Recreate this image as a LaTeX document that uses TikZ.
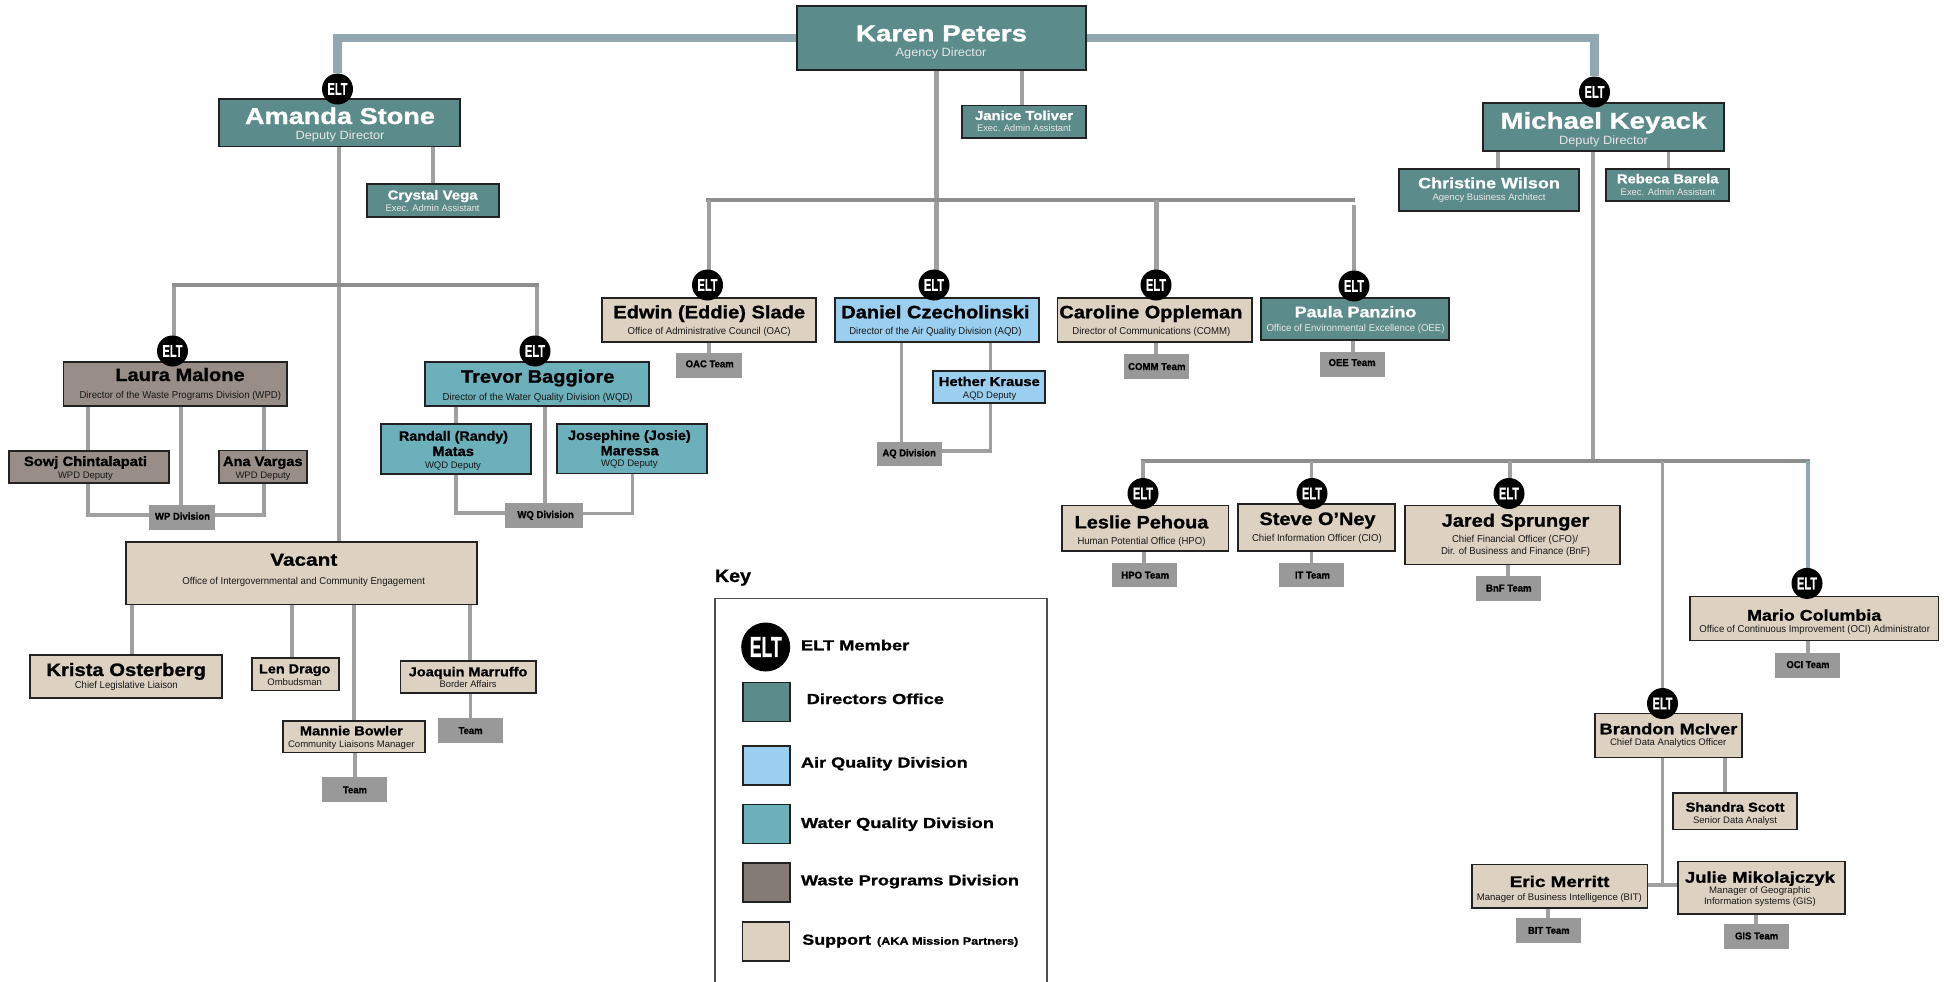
\documentclass[tikz,border=0pt]{standalone}
\usepackage{fontspec}
\usepackage{graphicx}
\setmainfont[BoldFeatures={FakeBold=1}]{Liberation Sans}
\definecolor{cteal}{HTML}{5B8B8A}
\definecolor{ctan}{HTML}{DDD2C2}
\definecolor{cair}{HTML}{9BCFF0}
\definecolor{cwater}{HTML}{6CB0BB}
\definecolor{cwaste}{HTML}{988E87}
\definecolor{cwastekey}{HTML}{857B76}
\definecolor{cteam}{HTML}{999999}
\definecolor{cline}{HTML}{A0A0A0}
\definecolor{cbus}{HTML}{8E8E8E}
\definecolor{ctop}{HTML}{91A7B1}
\definecolor{cedge}{HTML}{222222}
\pgfdeclarelayer{bg}
\pgfsetlayers{bg,main}
\tikzset{
  boxs/.style={rectangle,draw=cedge,line width=1.5pt,inner sep=0pt,outer sep=0pt},
  teal/.style={boxs,fill=cteal,text=white},
  tan/.style={boxs,fill=ctan,text=black},
  air/.style={boxs,fill=cair,text=black},
  water/.style={boxs,fill=cwater,text=black},
  waste/.style={boxs,fill=cwaste,text=black},
  team/.style={rectangle,fill=cteam,text=black,inner sep=0pt,outer sep=0pt},
  elt/.style={circle,fill=black,text=white,minimum size=31pt,inner sep=0pt,outer sep=0pt},
  eltkey/.style={circle,fill=black,text=white,minimum size=49pt,inner sep=0pt,outer sep=0pt},
  swatch/.style={rectangle,draw=cedge,line width=1.2pt,minimum width=47pt,minimum height=39pt,inner sep=0pt,outer sep=0pt},
  keylabel/.style={anchor=base west,inner sep=0pt,outer sep=0pt,text=black},
  conn/.style={draw=cline,line width=3.8pt,line join=miter},
  thick conn/.style={draw=cline,line width=5pt},
  bus/.style={draw=cbus,line width=4.3pt},
  topl/.style={draw=ctop,line width=8.5pt,line join=miter},
  blue conn/.style={draw=ctop,line width=3.5pt},
}
\newcommand{\bx}[7]{%
  \pgfmathsetmacro\cxx{(#2+#4)/2}%
  \pgfmathsetmacro\cyy{(#3+#5)/2}%
  \pgfmathsetmacro\bxW{#4-#2}%
  \pgfmathsetmacro\bxH{#5-#3}%
  \node[#6,minimum width=\bxW pt,minimum height=\bxH pt] (#1) at (\cxx,\cyy) {#7};%
}
\newcommand{\tline}[5]{%
  \pgfmathsetmacro\dxx{#1-\cxx}%
  \pgfmathsetmacro\dyy{\cyy-#2}%
  \kern\dxx pt\makebox[0pt][c]{\raisebox{\dyy pt}[0pt][0pt]{\resizebox{#3pt}{\height}{\fontsize{#4}{#4}\selectfont #5}}}\kern-\dxx pt\relax
}
\newcommand{\nameln}[5]{\tline{#1}{#2}{#3}{#4}{\bfseries #5}}
\newcommand{\subln}[5]{\tline{#1}{#2}{#3}{#4}{\color{.!82!gray}#5}}
\newcommand{\eltn}[3]{\node[elt] (#1) at (#2,#3) {\resizebox{20pt}{\height}{\fontsize{17}{17}\bfseries\selectfont ELT}};}
\newcommand{\vcon}[4][conn]{\draw[#1] (#2,0 |- #3) -- (#2,0 |- #4);}
\newcommand{\keyl}[5]{\node[keylabel] (#1) at (#2,#3) {\resizebox{#4pt}{\height}{\fontsize{14.5}{14.5}\bfseries\selectfont #5}};}
\begin{document}
\begin{tikzpicture}[x=1pt,y=-1pt]
\useasboundingbox (0,0) rectangle (1944,982);

% Director's office
\bx{karen}{797}{6}{1086}{70}{teal}{\nameln{941.5}{41.3}{171}{23}{Karen Peters}\subln{941}{56.7}{90.7}{12}{Agency Director}}
\bx{janice}{962}{105.5}{1086}{138}{teal}{\nameln{1024}{120}{98}{13}{Janice Toliver}\subln{1024}{131.7}{94}{9.5}{Exec. Admin Assistant}}
\bx{amanda}{219}{99}{460}{146.7}{teal}{\nameln{340}{124}{190}{23}{Amanda Stone}\subln{340}{139.5}{89}{12}{Deputy Director}}
\bx{crystal}{367}{184}{499}{217}{teal}{\nameln{432.6}{199.5}{90}{13}{Crystal Vega}\subln{432.6}{211}{94}{9.5}{Exec. Admin Assistant}}
\bx{michael}{1483}{103}{1724}{151}{teal}{\nameln{1603.5}{128.7}{206}{23}{Michael Keyack}\subln{1603.5}{144.3}{89}{12}{Deputy Director}}
\bx{christine}{1399}{169}{1579}{211}{teal}{\nameln{1489}{188.3}{141.7}{15}{Christine Wilson}\subln{1489}{200}{113}{9.5}{Agency Business Architect}}
\bx{rebeca}{1606}{169}{1729}{201}{teal}{\nameln{1667.7}{183.3}{101.5}{13}{Rebeca Barela}\subln{1668}{195.3}{94.6}{9.5}{Exec. Admin Assistant}}

% Waste programs
\bx{laura}{63.5}{362}{287}{406}{waste}{\nameln{180}{381}{129.4}{18}{Laura Malone}\subln{180.3}{398}{201.5}{10}{Director of the Waste Programs Division (WPD)}}
\bx{sowj}{9}{451}{169}{483}{waste}{\nameln{85.5}{466}{123}{13.5}{Sowj Chintalapati}\subln{85.4}{478}{54.8}{9.5}{WPD Deputy}}
\bx{ana}{219}{450.5}{307}{483}{waste}{\nameln{262.8}{466}{79.6}{13.5}{Ana Vargas}\subln{263}{478}{55}{9.5}{WPD Deputy}}
\bx{wp}{149}{505}{215}{530}{team}{\nameln{182.5}{519.7}{55}{10}{WP Division}}

% Water quality
\bx{trevor}{425}{362}{649}{406}{water}{\nameln{537.7}{382.7}{153.4}{18}{Trevor Baggiore}\subln{537.7}{400}{190}{10}{Director of the Water Quality Division (WQD)}}
\bx{randall}{381}{424}{531}{474}{water}{\nameln{453.5}{440.7}{109}{13.5}{Randall (Randy)}\nameln{453.2}{456}{41.5}{13.5}{Matas}\subln{453}{468}{56}{9.5}{WQD Deputy}}
\bx{josephine}{557}{424}{707}{473.5}{water}{\nameln{629.4}{440}{122.8}{13.5}{Josephine (Josie)}\nameln{629.6}{455.3}{58}{13.5}{Maressa}\subln{629.4}{466.7}{56.5}{9.5}{WQD Deputy}}
\bx{wq}{505}{503}{582.5}{528}{team}{\nameln{545.6}{518}{56.4}{10}{WQ Division}}

% Intergovernmental office
\bx{vacant}{126}{542}{477}{604.5}{tan}{\nameln{303.8}{565.7}{67}{17.5}{Vacant}\subln{303.7}{584.3}{242.5}{10}{Office of Intergovernmental and Community Engagement}}
\bx{krista}{30}{655}{222}{698}{tan}{\nameln{126.2}{676}{159.6}{18}{Krista Osterberg}\subln{126.3}{688.7}{103}{10}{Chief Legislative Liaison}}
\bx{len}{252}{658}{339}{690.5}{tan}{\nameln{294.7}{673.3}{71.3}{13}{Len Drago}\subln{294.7}{685}{54.7}{9.5}{Ombudsman}}
\bx{joaquin}{400.5}{661}{536}{693}{tan}{\nameln{468.1}{676.3}{118.6}{13}{Joaquin Marruffo}\subln{468.1}{687.7}{57}{9.5}{Border Affairs}}
\bx{mannie}{283}{721}{425}{752.5}{tan}{\nameln{351.4}{735.3}{103}{13}{Mannie Bowler}\subln{351.3}{747}{126.5}{9.5}{Community Liaisons Manager}}
\bx{teamA}{322}{777}{387}{802}{team}{\nameln{355}{793.3}{24}{10}{Team}}
\bx{teamB}{438}{718}{502.5}{742.5}{team}{\nameln{470.6}{734}{24}{10}{Team}}

% Middle row
\bx{edwin}{602}{298}{816}{342}{tan}{\nameln{709.2}{318.3}{191.7}{18}{Edwin (Eddie) Slade}\subln{709.2}{334}{163}{10}{Office of Administrative Council (OAC)}}
\bx{daniel}{835}{298}{1039}{342}{air}{\nameln{935.4}{318.3}{188.3}{18}{Daniel Czecholinski}\subln{935.4}{334}{172.2}{10}{Director of the Air Quality Division (AQD)}}
\bx{caroline}{1057.6}{298}{1252}{342}{tan}{\nameln{1150.9}{318.3}{183}{18}{Caroline Oppleman}\subln{1151.4}{334}{158}{10}{Director of Communications (COMM)}}
\bx{paula}{1261}{298}{1449}{340}{teal}{\nameln{1355.5}{317.3}{121.7}{15.5}{Paula Panzino}\subln{1355.5}{331.7}{178}{10}{Office of Environmental Excellence (OEE)}}
\bx{oac}{676}{353}{742}{378}{team}{\nameln{709.7}{367.3}{48}{10}{OAC Team}}
\bx{comm}{1124}{354}{1189}{379}{team}{\nameln{1156.8}{370}{57.4}{10}{COMM Team}}
\bx{oee}{1320}{352}{1385}{377}{team}{\nameln{1352.1}{366}{47}{10}{OEE Team}}
\bx{hether}{933}{371}{1045}{403}{air}{\nameln{989.3}{386}{101}{13}{Hether Krause}\subln{989.6}{398}{53.4}{9.5}{AQD Deputy}}
\bx{aq}{877}{441.5}{942}{466}{team}{\nameln{909.2}{456.3}{53.4}{10}{AQ Division}}

% Right hand side
\bx{leslie}{1062}{505.7}{1228.5}{550.8}{tan}{\nameln{1141.5}{528.4}{133.7}{18}{Leslie Pehoua}\subln{1141.5}{544.7}{128}{10}{Human Potential Office (HPO)}}
\bx{steve}{1238}{504}{1395}{550.8}{tan}{\nameln{1317.5}{525}{116}{18}{Steve O’Ney}\subln{1316.9}{541.6}{129.7}{10}{Chief Information Officer (CIO)}}
\bx{jared}{1405}{505.7}{1620}{564.5}{tan}{\nameln{1515.5}{526.7}{147.6}{18}{Jared Sprunger}\subln{1515}{542.6}{126}{10}{Chief Financial Officer (CFO)/}\subln{1515.5}{554.5}{149}{10}{Dir. of Business and Finance (BnF)}}
\bx{hpo}{1112}{563}{1177}{587.4}{team}{\nameln{1145.2}{578.6}{47.8}{10}{HPO Team}}
\bx{it}{1279}{563}{1344}{587.4}{team}{\nameln{1312.4}{578.6}{35}{10}{IT Team}}
\bx{bnf}{1476}{575.7}{1541}{600.7}{team}{\nameln{1508.8}{591.5}{45.5}{10}{BnF Team}}
\bx{mario}{1690}{596.6}{1938.6}{640.4}{tan}{\nameln{1814.2}{620.7}{134.3}{15.5}{Mario Columbia}\subln{1814.7}{632.2}{230.5}{10}{Office of Continuous Improvement (OCI) Administrator}}
\bx{oci}{1775}{652.6}{1840}{677.5}{team}{\nameln{1808}{668}{43}{10}{OCI Team}}
\bx{brandon}{1595}{713.7}{1742}{757.4}{tan}{\nameln{1668.5}{734.3}{137.8}{15.5}{Brandon McIver}\subln{1668.2}{745.2}{116.4}{9.5}{Chief Data Analytics Officer}}
\bx{shandra}{1673}{793}{1797}{829.7}{tan}{\nameln{1735.1}{811.7}{99}{13}{Shandra Scott}\subln{1735.1}{823}{84}{9.5}{Senior Data Analyst}}
\bx{eric}{1472}{864.3}{1647.5}{908}{tan}{\nameln{1559.6}{887}{99.7}{15.5}{Eric Merritt}\subln{1559.3}{900.3}{165}{9.5}{Manager of Business Intelligence (BIT)}}
\bx{julie}{1678}{861.3}{1845}{914.2}{tan}{\nameln{1759.9}{882.7}{150}{15.5}{Julie Mikolajczyk}\subln{1759.8}{893.4}{101.4}{9.5}{Manager of Geographic}\subln{1759.9}{904.7}{111.8}{9.5}{Information systems (GIS)}}
\bx{bit}{1516}{918.3}{1581}{942.7}{team}{\nameln{1548.8}{933.9}{41.5}{10}{BIT Team}}
\bx{gis}{1724}{923.9}{1789}{948.8}{team}{\nameln{1756.6}{939.4}{43.2}{10}{GIS Team}}

% ELT markers
\eltn{eA}{337.5}{89}
\eltn{eM}{1594.5}{92}
\eltn{eL}{172.5}{351}
\eltn{eT}{535}{351}
\eltn{eE}{707.5}{285}
\eltn{eD}{934}{285}
\eltn{eC}{1156}{285}
\eltn{eP}{1354}{286}
\eltn{eLe}{1143}{493.5}
\eltn{eS}{1312}{493.5}
\eltn{eJ}{1509}{493.5}
\eltn{eMa}{1807}{583.4}
\eltn{eB}{1662.5}{703.5}

% bus and elbow points
\coordinate (busAL) at (172,285);
\coordinate (busAR) at (539,285);
\coordinate (busKL) at (706,200);
\coordinate (busKR) at (1355,200);
\coordinate (paulaTop) at (1354,205);
\coordinate (busML) at (1140.6,461.2);
\coordinate (busMR) at (1810,461.2);
\coordinate (wpL) at (149,514.7);
\coordinate (wpR) at (215,514.7);
\coordinate (wqL) at (505,513);
\coordinate (wqR) at (582.5,513);
\coordinate (aqR) at (942,451);
\coordinate (junB) at (1662.5,884.7);

\begin{pgfonlayer}{bg}
  \draw[topl] (karen.west) -| (eA.north);
  \draw[topl] (karen.east) -| (eM.north);
  \vcon{339}{amanda.south}{vacant.north}
  \vcon{433}{amanda.south}{crystal.north}
  \vcon{174}{busAL}{eL.north}
  \vcon{537}{busAR}{eT.north}
  \draw[bus] (busAL) -- (busAR);
  \vcon{88}{laura.south}{sowj.north}
  \vcon{181}{laura.south}{wp.north}
  \vcon{264}{laura.south}{ana.north}
  \draw[conn] (88,0 |- sowj.south) |- (wpL);
  \draw[conn] (264,0 |- ana.south) |- (wpR);
  \vcon{456}{trevor.south}{randall.north}
  \vcon{545}{trevor.south}{wq.north}
  \draw[conn] (456,0 |- randall.south) |- (wqL);
  \draw[conn,line width=3pt] (632,0 |- josephine.south) |- (wqR);
  \vcon{132}{vacant.south}{krista.north}
  \vcon{292}{vacant.south}{len.north}
  \vcon{354}{vacant.south}{mannie.north}
  \vcon{470}{vacant.south}{joaquin.north}
  \vcon{470.5}{joaquin.south}{teamB.north}
  \vcon{355}{mannie.south}{teamA.north}
  \vcon[thick conn]{936}{karen.south}{eD.north}
  \vcon{1022}{karen.south}{janice.north}
  \draw[bus] (busKL) -- (busKR);
  \vcon{708.6}{busKL}{eE.north}
  \vcon[thick conn]{1156}{busKL}{eC.north}
  \vcon{1354}{paulaTop}{eP.north}
  \vcon{709}{edwin.south}{oac.north}
  \vcon{1156}{caroline.south}{comm.north}
  \vcon{1353}{paula.south}{oee.north}
  \vcon{990.5}{daniel.south}{hether.north}
  \vcon{901.5}{daniel.south}{aq.north}
  \draw[conn] (990.5,0 |- hether.south) |- (aqR);
  \vcon{1497.6}{michael.south}{christine.north}
  \vcon{1668.5}{michael.south}{rebeca.north}
  \vcon{1592.6}{michael.south}{busML}
  \draw[bus] (busML) -- (busMR);
  \vcon{1142.6}{busML}{eLe.north}
  \vcon{1311.5}{busML}{eS.north}
  \vcon{1510}{busML}{eJ.north}
  \vcon{1662.5}{busML}{eB.north}
  \vcon[blue conn]{1808}{busML}{eMa.north}
  \vcon{1144}{leslie.south}{hpo.north}
  \vcon{1311.5}{steve.south}{it.north}
  \vcon{1508}{jared.south}{bnf.north}
  \vcon{1808}{mario.south}{oci.north}
  \vcon{1725}{brandon.south}{shandra.north}
  \vcon{1662.5}{brandon.south}{junB}
  \draw[conn] (eric.east |- junB) -- (julie.west |- junB);
  \vcon{1548}{eric.south}{bit.north}
  \vcon{1756}{julie.south}{gis.north}
\end{pgfonlayer}

% Key
\node[keylabel] (keyT) at (715,582) {\resizebox{36pt}{\height}{\fontsize{18}{18}\bfseries\selectfont Key}};
\draw[draw=cedge!80,line width=1.4pt] (715,982) -- (715,598.5) -- (1047,598.5) -- (1047,982);
\node[eltkey] (kE) at (765.7,647) {\resizebox{32pt}{\height}{\fontsize{29}{29}\bfseries\selectfont ELT}};
\node[swatch,fill=cteal] (kD) at (766.5,702) {};
\node[swatch,fill=cair] (kA) at (766.5,765.5) {};
\node[swatch,fill=cwater] (kW) at (766.5,824) {};
\node[swatch,fill=cwastekey] (kP) at (766.5,882.5) {};
\node[swatch,fill=ctan] (kS) at (766,941.5) {};
\keyl{lE}{801}{650.3}{108.3}{ELT Member}
\keyl{lD}{806.7}{704}{137.3}{Directors Office}
\keyl{lA}{801}{767.5}{166.7}{Air Quality Division}
\keyl{lW}{801}{828}{193}{Water Quality Division}
\keyl{lP}{801}{885.3}{218}{Waste Programs Division}
\keyl{lS}{802.3}{944.7}{68.7}{Support}
\node[keylabel] (lS2) at (877,944.7) {\resizebox{141.3pt}{\height}{\fontsize{10.5}{10.5}\bfseries\selectfont (AKA Mission Partners)}};
\end{tikzpicture}
\end{document}
